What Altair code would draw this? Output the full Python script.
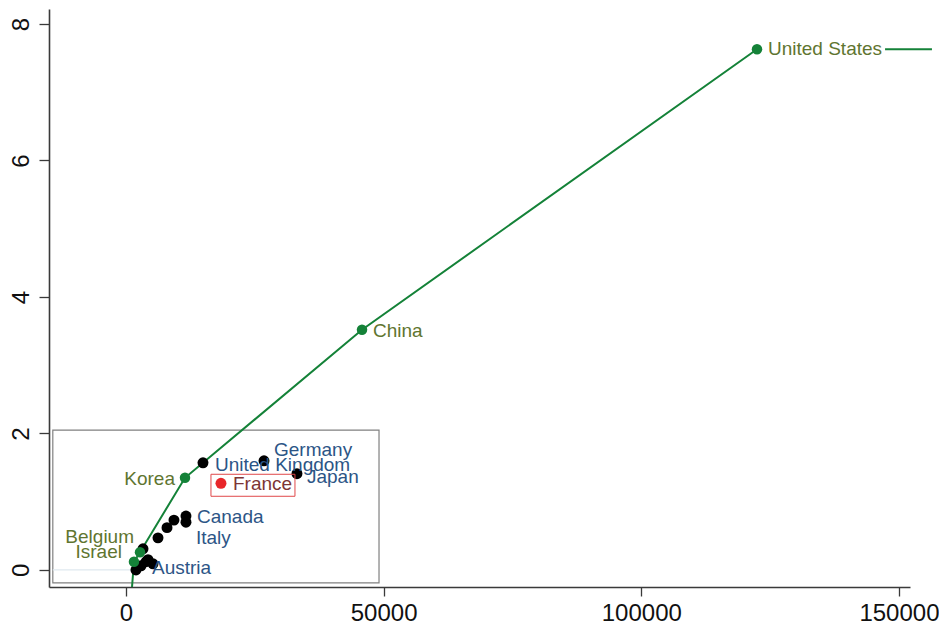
import altair as alt
import pandas as pd

# Highlighted countries on the green frontier line
green_names = ["Israel", "Belgium", "Korea", "China", "United States"]
green_x = [1550, 2720, 11450, 45800, 122450]
green_y = [0.12, 0.26, 1.35, 3.52, 7.63]

# Labelled countries drawn as black dots
black_names = ["United Kingdom", "Germany", "Japan", "Canada", "Italy", "Austria"]
black_x = [14940, 26780, 33180, 11640, 11640, 2910]
black_y = [1.57, 1.60, 1.41, 0.79, 0.70, 0.06]

# Unlabelled countries
other_x = [9310, 7960, 6210, 1940, 3880, 3300, 4270, 5240]
other_y = [0.73, 0.62, 0.47, 0.00, 0.12, 0.31, 0.15, 0.09]

# France, shown in red
france_x = [18430]
france_y = [1.27]

# Frontier: runs in from the bottom edge, through the green countries,
# then continues flat beyond the United States
frontier_x = [1170] + green_x
frontier_y = [-0.25] + green_y
tail_x = [147300, 156400]
tail_y = [7.63, 7.63]

# Zoom box drawn around the cluster near the origin
box_x = [-14200, 49100]
box_y = [-0.19, 2.05]

# Faint reference line at zero on the left
zero_x = [-14200, 1170]

x_ticks = [0, 50000, 100000, 150000]
y_ticks = [0, 2, 4, 6, 8]

GREEN = "#148238"
OLIVE = "#5f7530"
BLUE = "#2c5586"
MAROON = "#7d3535"
RED = "#e8262a"
FONT = "Liberation Sans"

xs = alt.Scale(domain=[-14940, 152140], nice=False, zero=False)
ys = alt.Scale(domain=[-0.25, 8.22], nice=False, zero=False)

x_axis = alt.Axis(values=x_ticks, format="d", title=None, grid=False,
                  labelFontSize=24, labelFont=FONT, labelColor="#111111",
                  tickSize=9, labelPadding=5)
y_axis = alt.Axis(values=y_ticks, format="d", title=None, grid=False,
                  labelFontSize=24, labelFont=FONT, labelColor="#111111",
                  tickSize=10, labelAngle=-90, labelAlign="center",
                  labelBaseline="bottom", labelPadding=6)

line_df = pd.DataFrame({
    "x": frontier_x + tail_x,
    "y": frontier_y + tail_y,
    "seg": ["main"] * len(frontier_x) + ["tail"] * len(tail_x),
    "order": list(range(len(frontier_x))) + list(range(len(tail_x))),
})
green_df = pd.DataFrame({"name": green_names, "x": green_x, "y": green_y})
black_df = pd.DataFrame({"name": black_names, "x": black_x, "y": black_y})
other_df = pd.DataFrame({"x": other_x, "y": other_y})
dots_df = pd.concat([black_df[["x", "y"]], other_df], ignore_index=True)
france_df = pd.DataFrame({"name": ["France"], "x": france_x, "y": france_y})
box_df = pd.DataFrame({"x": [box_x[0]], "x2": [box_x[1]],
                       "y": [box_y[0]], "y2": [box_y[1]]})
zero_df = pd.DataFrame({"x": [zero_x[0]], "x2": [zero_x[1]], "y": [0.0]})

box = alt.Chart(box_df).mark_rect(fill=None, stroke="#808080", strokeWidth=1.2).encode(
    x=alt.X("x:Q", scale=xs, axis=x_axis), x2="x2:Q",
    y=alt.Y("y:Q", scale=ys, axis=y_axis), y2="y2:Q")

zero_rule = alt.Chart(zero_df).mark_rule(color="#dfe9ef", strokeWidth=1.2).encode(
    x=alt.X("x:Q", scale=xs), x2="x2:Q", y=alt.Y("y:Q", scale=ys))

line = alt.Chart(line_df).mark_line(color=GREEN, strokeWidth=2).encode(
    x=alt.X("x:Q", scale=xs), y=alt.Y("y:Q", scale=ys),
    detail="seg:N", order="order:Q")

dots = alt.Chart(dots_df).mark_circle(color="#000000", opacity=1, size=120).encode(
    x=alt.X("x:Q", scale=xs), y=alt.Y("y:Q", scale=ys))

green_dots = alt.Chart(green_df).mark_circle(color=GREEN, opacity=1, size=110).encode(
    x=alt.X("x:Q", scale=xs), y=alt.Y("y:Q", scale=ys))

france_dot = alt.Chart(france_df).mark_circle(color=RED, opacity=1, size=120).encode(
    x=alt.X("x:Q", scale=xs), y=alt.Y("y:Q", scale=ys))

france_box = alt.Chart(france_df).mark_rect(
    fill=None, stroke="#e0484a", strokeWidth=1,
    xOffset=-10, x2Offset=74, yOffset=-9, y2Offset=13).encode(
    x=alt.X("x:Q", scale=xs), x2="x:Q",
    y=alt.Y("y:Q", scale=ys), y2="y:Q")

# Label placement (pixel offset from the dot, and text alignment)
placement = {
    "United States": (11, 0, "left"),
    "China": (11, 1, "left"),
    "Korea": (-10, 1, "right"),
    "Belgium": (-6, -15, "right"),
    "Israel": (-12, -10, "right"),
    "United Kingdom": (12, 2, "left"),
    "Germany": (10, -11, "left"),
    "Japan": (10, 3, "left"),
    "Canada": (11, 1, "left"),
    "Italy": (10, 16, "left"),
    "Austria": (11, 2, "left"),
    "France": (12, 1, "left"),
}

label_sets = [(green_df, OLIVE), (black_df, BLUE), (france_df, MAROON)]
labels = []
for df, col in label_sets:
    for _, row in df.iterrows():
        dx, dy, al = placement[row["name"]]
        labels.append(
            alt.Chart(df[df["name"] == row["name"]]).mark_text(
                dx=dx, dy=dy, align=al, baseline="middle",
                font=FONT, fontSize=19, color=col).encode(
                x=alt.X("x:Q", scale=xs), y=alt.Y("y:Q", scale=ys),
                text="name:N"))

chart = alt.layer(box, zero_rule, line, dots, green_dots, france_box, france_dot,
                  *labels).properties(
    width=861, height=578,
    autosize=alt.AutoSizeParams(type="none"),
    padding={"left": 49, "top": 9, "right": 29, "bottom": 41},
    background="white",
).configure_view(stroke=None).configure_axis(
    domainColor="#3a3a3a", domainWidth=1.6, tickColor="#3a3a3a", tickWidth=1.3)

chart.save("out.html", embed_options={"renderer": "svg", "actions": False})
